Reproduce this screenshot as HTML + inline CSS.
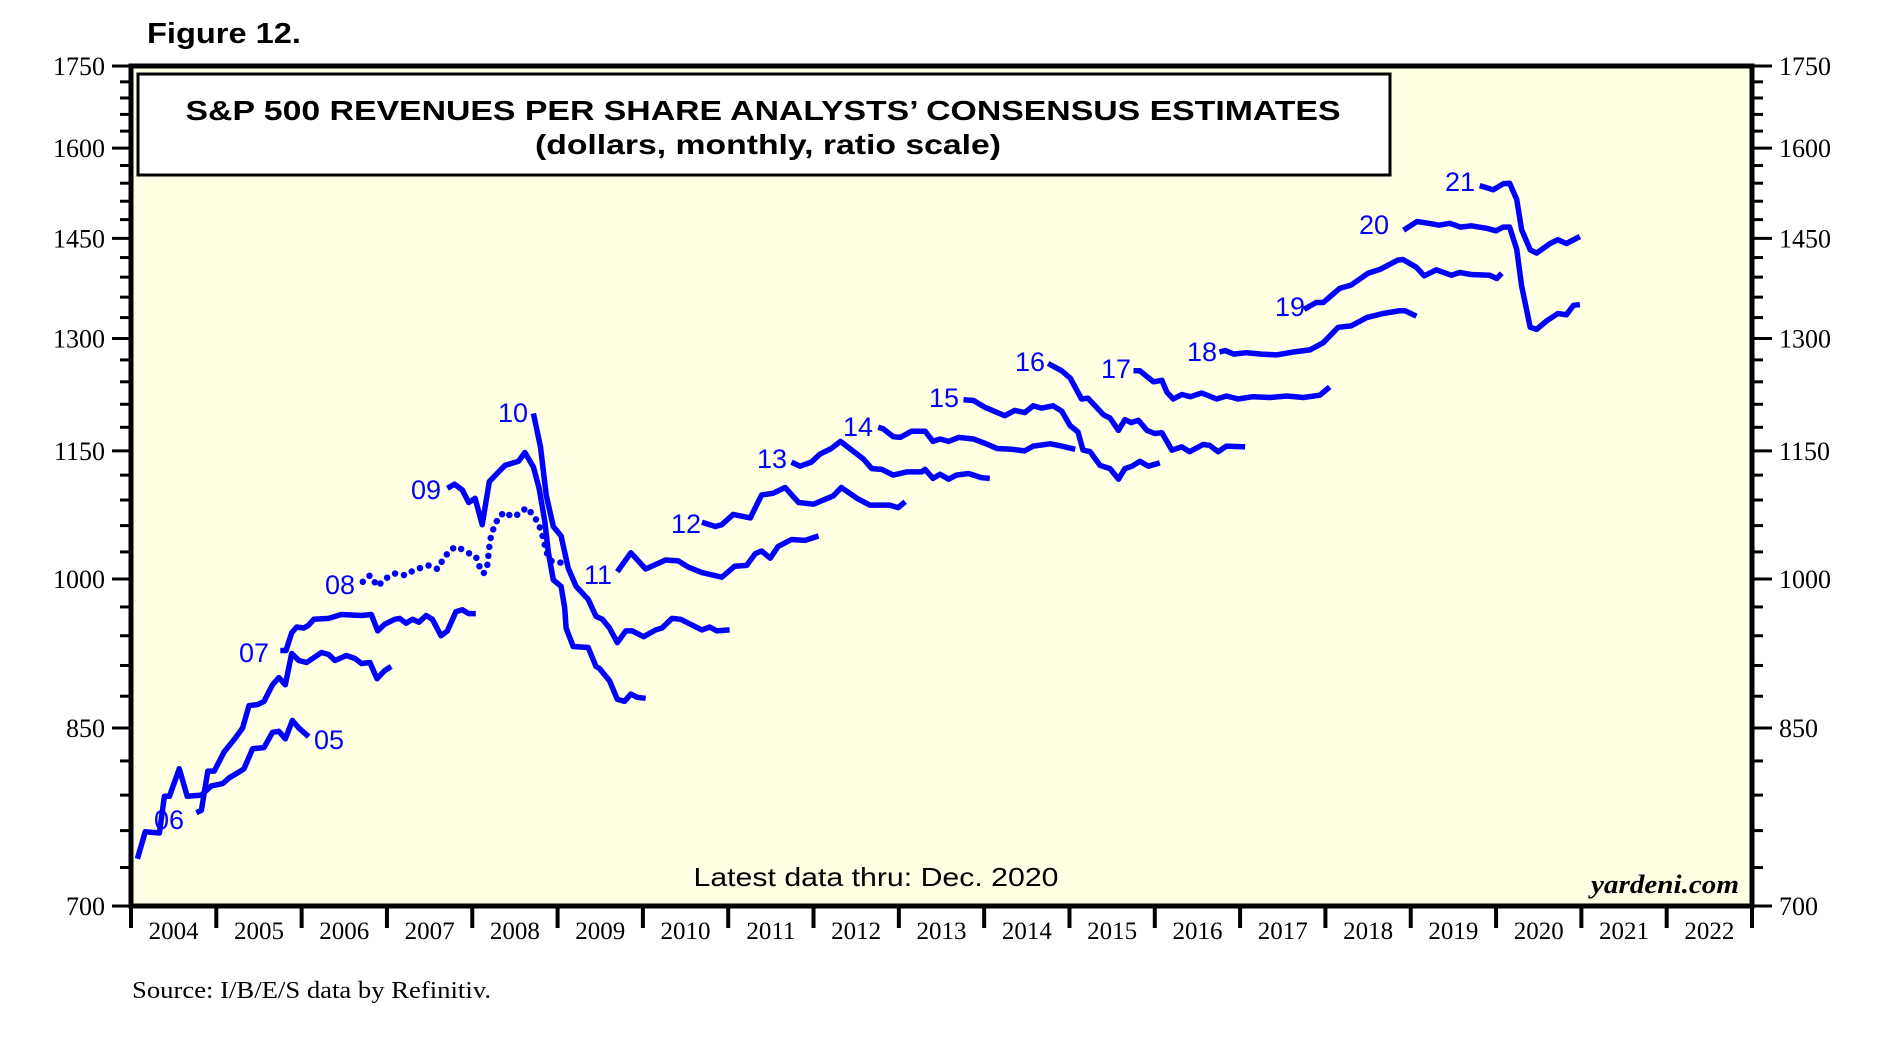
<!DOCTYPE html>
<html><head><meta charset="utf-8">
<style>
html,body{margin:0;padding:0;background:#fff;}
svg{display:block;}
</style></head>
<body>
<svg id="chart" xmlns="http://www.w3.org/2000/svg" width="1883" height="1061" viewBox="0 0 1883 1061">
<text x="147" y="43" font-family="Liberation Sans, sans-serif" font-weight="bold" font-size="29" textLength="154" lengthAdjust="spacingAndGlyphs">Figure 12.</text>
<rect x="131" y="66" width="1621" height="840" fill="#FFFFE4"/>
<g id="ticks"></g>
<g id="series"></g>
<g id="labels"></g>
<rect x="131" y="66" width="1621" height="840" fill="none" stroke="#000" stroke-width="5"/>
<rect x="138" y="74" width="1252" height="101" fill="#fff" stroke="#000" stroke-width="3"/>
<text x="763" y="120" text-anchor="middle" font-family="Liberation Sans, sans-serif" font-weight="bold" font-size="28" textLength="1155" lengthAdjust="spacingAndGlyphs">S&amp;P 500 REVENUES PER SHARE ANALYSTS’ CONSENSUS ESTIMATES</text>
<text x="768" y="154" text-anchor="middle" font-family="Liberation Sans, sans-serif" font-weight="bold" font-size="28" textLength="466" lengthAdjust="spacingAndGlyphs">(dollars, monthly, ratio scale)</text>
<text x="876" y="886" text-anchor="middle" font-family="Liberation Sans, sans-serif" font-size="26" textLength="365" lengthAdjust="spacingAndGlyphs">Latest data thru: Dec. 2020</text>
<text x="1739" y="893" text-anchor="end" font-family="Liberation Serif, serif" font-style="italic" font-weight="bold" font-size="26" textLength="148" lengthAdjust="spacingAndGlyphs">yardeni.com</text>
<text x="132" y="998" font-family="Liberation Serif, serif" font-size="24" textLength="359" lengthAdjust="spacingAndGlyphs">Source: I/B/E/S data by Refinitiv.</text>
</svg>
<script>
const yTickLabels=[700,850,1000,1150,1300,1450,1600,1750];
const yMinor=[730,760,790,820,880,910,940,970,1030,1060,1090,1120,1180,1210,1240,1270,1330,1360,1390,1420,1480,1510,1540,1570,1630,1660,1690,1720];
const years=[2004,2005,2006,2007,2008,2009,2010,2011,2012,2013,2014,2015,2016,2017,2018,2019,2020,2021,2022];
// series: month index since Jan 2004, value (dollars)
const s05m=[0.9,2,4,4.7,5.4,6.8,7.9,9.9,11.3,12.9,13.8,15.4,15.9,17.1,18.7,19.9,20.8,21.7,22.7,23.6,25];
const s05v=[737,759,758,789,789,813,789,790,798,800,805,811,813,831,832,846,847,840,857,850,842];
const s06m=[9.2,9.9,10.8,11.7,13.1,14.7,15.7,16.6,17.8,18.7,19.9,20.8,21.7,22.6,23.6,24.7,26.8,27.8,28.7,30.3,31.5,32.4,33.6,34.6,35.7,36.6];
const s06v=[775,777,811,811,828,841,850,871,872,875,891,898,891,922,915,913,923,921,915,920,917,912,913,897,905,909];
const s07m=[21,21.8,22.6,23.3,24.3,25,25.7,27.8,29.6,32.4,33.8,34.7,35.7,37.1,37.8,38.7,39.6,40.5,41.5,42.4,43.6,44.5,45.7,46.6,47.5,48.5];
const s07v=[925,925,943,949,948,951,957,958,962,961,962,945,952,957,958,953,957,954,961,957,940,945,965,967,963,963];
const s08m=[32.6,33.6,34.7,35.7,37.1,38.7,39.8,41.9,43.1,44,45,45.9,47.1,48.5,49.2,49.6,50.1,50.5,51,51.7,52.6,53.6,54.7,55.6,56.4,57.3,58,58.4,59.1,60.5];
const s08v=[997,1004,992,1000,1006,1004,1010,1015,1011,1023,1033,1036,1030,1025,1010,1006,1014,1043,1057,1070,1076,1070,1074,1081,1074,1063,1045,1030,1020,1018];
const s09m=[44.5,45.5,46.6,47.5,48.4,49.4,50.4,51.5,52.6,54.5,55.4,56.6,57.4,58.2,58.7,59.4,60.5,61,61.2,62.2,64.3,65.4,65.9,67.3,68.4,69.4,70.3,71.2,72.4];
const s09v=[1104,1109,1102,1087,1092,1061,1112,1122,1132,1137,1148,1130,1104,1065,1030,999,992,969,948,929,928,909,907,895,877,875,882,879,878];
const s10m=[56.6,57.6,58.4,59.4,60.5,61.5,62.6,64.3,65.4,66.3,67.3,68.4,69.6,70.5,72.1,73.8,74.7,76.1,77.3,80.3,81.4,82.4,84.2];
const s10v=[1198,1155,1096,1059,1048,1012,992,978,960,957,948,933,945,945,939,946,948,958,957,946,949,945,946];
const s11m=[68.4,70.3,72.4,75.2,77,78.4,80.3,83.1,84.9,86.6,87.8,88.7,89.9,91,92.9,94.8,96.7];
const s11v=[1008,1029,1011,1021,1020,1013,1007,1002,1014,1015,1028,1031,1023,1036,1044,1043,1048];
const s12m=[80.3,82.2,83.1,84.7,87.1,88.7,90.3,92,93.9,96,98.8,99.9,102.1,103.9,106.7,107.9,108.9];
const s12v=[1064,1059,1061,1073,1069,1096,1098,1105,1087,1085,1095,1105,1092,1084,1084,1081,1088];
const s13m=[92.9,94.1,95.7,96.9,98.5,99.8,103,104.2,105.6,107.2,109.1,111.2,111.7,112.8,113.8,115,116.1,117.8,119.6,120.8];
const s13v=[1136,1131,1136,1146,1153,1162,1140,1128,1127,1120,1124,1124,1127,1116,1121,1115,1120,1122,1117,1116];
const s14m=[105.1,105.8,107.2,108.2,109.8,111.7,112.8,113.8,115,116.4,118.5,120.3,121.8,123.9,125.7,126.9,129.3,130.9,132.8];
const s14v=[1180,1178,1168,1167,1175,1175,1162,1165,1162,1167,1165,1159,1153,1152,1150,1156,1159,1156,1152];
const s15m=[117.1,118.5,120.1,122.9,124.3,125.7,126.9,128.1,129.7,130.9,132.1,133.2,133.9,134.9,136.3,137.7,138.9,139.8,140.8,141.9,143.1,144.7];
const s15v=[1216,1215,1206,1195,1202,1199,1208,1205,1208,1201,1182,1174,1151,1149,1132,1128,1115,1128,1131,1137,1131,1135];
const s16m=[129,130.9,132.1,133.7,134.6,136.8,137.7,138.9,139.8,140.7,141.7,142.9,144,145,146.4,147.8,148.9,150.8,151.7,152.9,154.1,156.7];
const s16v=[1265,1255,1245,1217,1218,1196,1192,1176,1190,1186,1189,1176,1172,1173,1151,1155,1149,1158,1157,1149,1156,1155];
const s17m=[141,141.9,143.8,145,145.7,146.6,147.8,149,150.6,152.7,154.1,155.7,157.8,160.2,162.6,164.9,167.2,168.6];
const s17v=[1255,1255,1240,1242,1226,1217,1223,1220,1225,1217,1221,1217,1220,1219,1221,1219,1222,1233];
const s18m=[153.1,153.9,155.1,156.9,159,161.1,163.5,165.8,167.7,169.8,171.6,173.8,176.1,178.5,179.2,180.8];
const s18v=[1281,1283,1278,1280,1278,1277,1281,1284,1294,1316,1318,1330,1336,1340,1340,1332];
const s19m=[165,166.7,167.7,170,171.6,174,175.7,178.2,178.9,180.8,181.9,183.6,185.7,186.9,188.5,191.1,192.1,192.8];
const s19v=[1342,1352,1352,1373,1378,1396,1402,1416,1417,1405,1392,1401,1393,1397,1394,1393,1388,1396];
const s20m=[179,180.9,182.5,184,185.5,187,188.5,190.7,192,193,193.9,194.9,195.6,196.8,197.7,199.1,200.7,201.9,202.9,203.8];
const s20v=[1463,1477,1474,1471,1474,1468,1470,1466,1462,1468,1468,1433,1377,1316,1313,1325,1336,1334,1348,1349];
const s21m=[189.7,191.6,193,193.9,194.9,195.6,196.8,197.7,199.6,200.7,201.9,203.8];
const s21v=[1536,1529,1539,1540,1513,1464,1432,1427,1442,1448,1442,1453];
const seriesNames=["05","06","07","08","09","10","11","12","13","14","15","16","17","18","19","20","21"];
const seriesMonths=[s05m,s06m,s07m,s08m,s09m,s10m,s11m,s12m,s13m,s14m,s15m,s16m,s17m,s18m,s19m,s20m,s21m];
const seriesValues=[s05v,s06v,s07v,s08v,s09v,s10v,s11v,s12v,s13v,s14v,s15v,s16v,s17v,s18v,s19v,s20v,s21v];
const labelPos=[[335,746],[175,826],[260,659],[346,591],[432,496],[519,419],[604,581],[692,530],[778,465],[864,433],[950,404],[1036,368],[1122,375],[1208,358],[1296,313],[1380,231],[1466,188]];

const NS="http://www.w3.org/2000/svg";
const X0=131,X1=1752,Y0=66,Y1=906,VMIN=700,VMAX=1750;
const yearW=(X1-X0)/years.length;
function xScale(m){return X0+m*yearW/12;}
function yScale(v){return Y0+(Math.log(VMAX)-Math.log(v))/(Math.log(VMAX)-Math.log(VMIN))*(Y1-Y0);}
function mk(tag,attrs,parent){const e=document.createElementNS(NS,tag);for(const k in attrs)e.setAttribute(k,attrs[k]);parent.appendChild(e);return e;}
const gT=document.getElementById('ticks'),gS=document.getElementById('series'),gL=document.getElementById('labels');

yTickLabels.forEach(v=>{
  const y=yScale(v);
  const l1=mk('line',{x1:112,x2:X0,y1:y,y2:y,stroke:'#000','stroke-width':3},gT);
  
  
  const l2=mk('line',{x1:X1,x2:1772,y1:y,y2:y,stroke:'#000','stroke-width':3},gT);
  
  
  const t1=mk('text',{x:105,y:y+9,'text-anchor':'end','font-family':'Liberation Serif, serif','font-size':26},gT);
  t1.textContent=v;
  
  
  const t2=mk('text',{x:1779,y:y+9,'font-family':'Liberation Serif, serif','font-size':26},gT);
  t2.textContent=v;
  
  
});
yMinor.forEach(v=>{
  const y=yScale(v);
  const a=mk('line',{x1:120,x2:X0,y1:y,y2:y,stroke:'#000','stroke-width':3},gT);
  
  
  const b=mk('line',{x1:X1,x2:1763,y1:y,y2:y,stroke:'#000','stroke-width':3},gT);
  
  
});
for(let i=0;i<=years.length;i++){
  const x=xScale(i*12);
  const t=mk('line',{x1:x,x2:x,y1:Y1,y2:928,stroke:'#000','stroke-width':4},gT);
  
  
}
years.forEach((yr,i)=>{
  const t=mk('text',{x:xScale(i*12+6),y:939,'text-anchor':'middle','font-family':'Liberation Serif, serif','font-size':25},gT);
  t.textContent=yr;
  
  
});
seriesNames.forEach((nm,i)=>{
  const ms=seriesMonths[i],vs=seriesValues[i];
  const pts=ms.map((m,j)=>xScale(m).toFixed(1)+','+yScale(vs[j]).toFixed(1)).join(' ');
  const attrs={points:pts,fill:'none',stroke:'#0000FF','stroke-width':5.5,'stroke-linejoin':'round','stroke-linecap':'butt'};
  if(nm==='08'){attrs['stroke-dasharray']='0 9';attrs['stroke-linecap']='round';attrs['stroke-width']=6.5;}
  const p=mk('polyline',attrs,gS);
  
  
  const t=mk('text',{x:labelPos[i][0]-6,y:labelPos[i][1]+3,'text-anchor':'middle','font-family':'Liberation Sans, sans-serif','font-size':27,fill:'#0000FF'},gL);
  t.textContent=nm;
  
  
});
</script>
</body></html>
